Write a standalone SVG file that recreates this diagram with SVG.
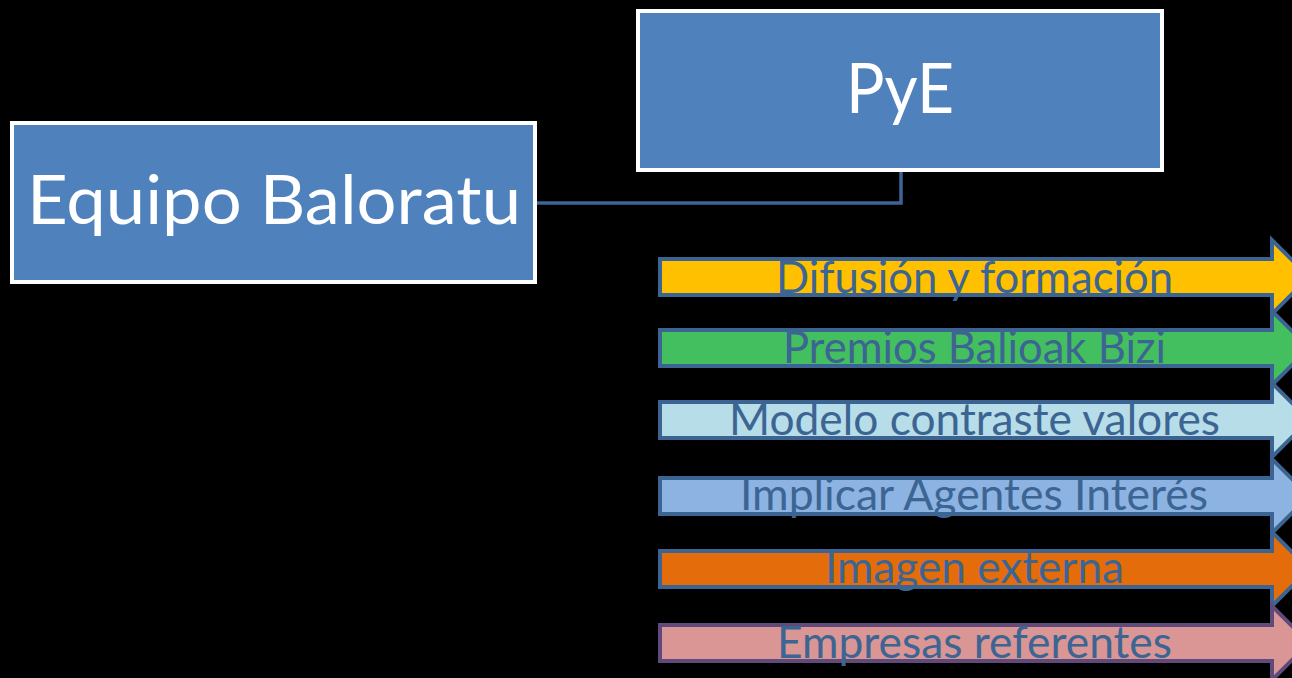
<svg xmlns="http://www.w3.org/2000/svg" width="1292" height="678" viewBox="0 0 1292 678">
<style>
.box{fill:#4f81bd;stroke:#ffffff;stroke-width:4}
.boxtxt{font-family:Lato,"Open Sans","Liberation Sans",sans-serif;fill:#ffffff;text-anchor:middle}
.conn{fill:none;stroke:#3d6494;stroke-width:3.5}
.arr{stroke:#3c6492;stroke-width:4;stroke-linejoin:miter}
.atxt{font-family:Lato,"Open Sans","Liberation Sans",sans-serif;font-size:44px;fill:#3c6593;text-anchor:middle}
</style>
<defs>
<path id="arrowShape" d="M660,-18 L1272,-18 L1272,-37 L1309,0 L1272,37 L1272,18 L660,18 Z"/>
</defs>
<rect x="0" y="0" width="1292" height="678" fill="#000000"/>
<g id="connectors">
<path class="conn" d="M535,203 L901,203 L901,170"/>
</g>
<g id="node-pye">
<rect class="box" x="638" y="11" width="524" height="159"/>
<text class="boxtxt" x="900" y="113" font-size="69" textLength="108" lengthAdjust="spacingAndGlyphs">PyE</text>
</g>
<g id="node-equipo">
<rect class="box" x="12" y="123" width="523" height="159"/>
<text class="boxtxt" x="274" y="224" font-size="67" textLength="494" lengthAdjust="spacingAndGlyphs">Equipo Baloratu</text>
</g>
<g id="arrow-difusion">
<use href="#arrowShape" class="arr" fill="#ffc000" transform="translate(0,277)"/>
<text class="atxt" x="974.5" y="293" textLength="397" lengthAdjust="spacingAndGlyphs">Difusión y formación</text>
</g>
<g id="arrow-premios">
<use href="#arrowShape" class="arr" fill="#43bf5f" transform="translate(0,348)"/>
<text class="atxt" x="974.5" y="363" textLength="383" lengthAdjust="spacingAndGlyphs">Premios Balioak Bizi</text>
</g>
<g id="arrow-modelo">
<use href="#arrowShape" class="arr" fill="#b7dde8" transform="translate(0,420)"/>
<text class="atxt" x="974.5" y="435" textLength="491" lengthAdjust="spacingAndGlyphs">Modelo contraste valores</text>
</g>
<g id="arrow-implicar">
<use href="#arrowShape" class="arr" fill="#8db3e2" transform="translate(0,496)"/>
<text class="atxt" x="974" y="510" textLength="468" lengthAdjust="spacingAndGlyphs">Implicar Agentes Interés</text>
</g>
<g id="arrow-imagen">
<use href="#arrowShape" class="arr" fill="#e46c0a" transform="translate(0,569)"/>
<text class="atxt" x="974.5" y="583" textLength="299" lengthAdjust="spacingAndGlyphs">Imagen externa</text>
</g>
<g id="arrow-empresas">
<use href="#arrowShape" class="arr" fill="#d99694" style="stroke:#604a7b" transform="translate(0,643)"/>
<text class="atxt" x="974.5" y="658" textLength="395" lengthAdjust="spacingAndGlyphs">Empresas referentes</text>
</g>
</svg>
